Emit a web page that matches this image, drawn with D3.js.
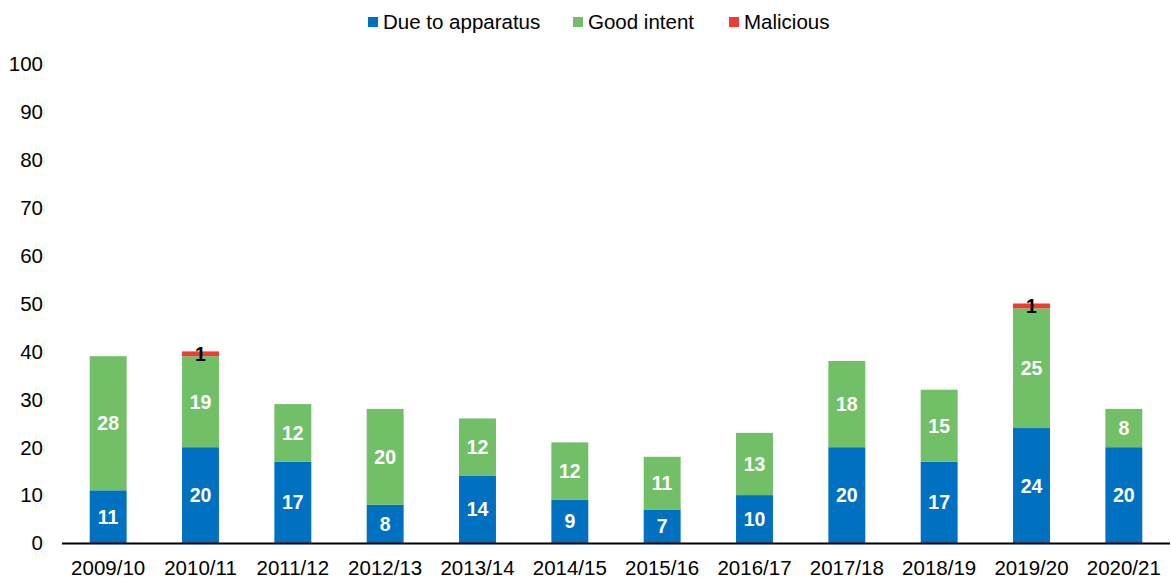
<!DOCTYPE html>
<html>
<head>
<meta charset="utf-8" />
<title>False alarms</title>
<script src="https://d3js.org/d3.v7.min.js"></script>
<style>
  body { margin: 0; background: #fff; }
  text { font-family: "Liberation Sans", Arial, sans-serif; }
</style>
</head>
<body>
<svg id="viz"></svg>
<script>
var years = ["2009/10","2010/11","2011/12","2012/13","2013/14","2014/15","2015/16","2016/17","2017/18","2018/19","2019/20","2020/21"];
var apparatus = [11,20,17,8,14,9,7,10,20,17,24,20];
var goodIntent = [28,19,12,20,12,12,11,13,18,15,25,8];
var malicious = [0,1,0,0,0,0,0,0,0,0,1,0];
var seriesNames = ["Due to apparatus","Good intent","Malicious"];
var yTicks = [0,10,20,30,40,50,60,70,80,90,100];

var colors = ["#0070C0","#71BF67","#EE3B33"];
var labelColors = ["#fff","#fff","#000"];

var width = 1171, height = 579;
var svg = d3.select("#viz").attr("width", width).attr("height", height);

var rows = years.map(function(y, i) {
  return { year: y, a: apparatus[i], g: goodIntent[i], m: malicious[i] };
});
var stack = d3.stack().keys(["a","g","m"]);
var layers = stack(rows);

var xScale = d3.scaleBand().domain(years).range([62, 1170]).paddingInner(0.6).paddingOuter(0.3);
var yScale = d3.scaleLinear().domain([0, 100]).range([543, 64]);

// y labels
svg.append("g").selectAll("text").data(yTicks).enter().append("text")
  .attr("x", 43).attr("y", function(d){ return yScale(d); })
  .attr("dy", "0.36em").attr("text-anchor", "end")
  .attr("font-size", 20.5).attr("fill", "#000")
  .text(function(d){ return d; });

// bars
var g = svg.append("g");
layers.forEach(function(layer, li) {
  g.selectAll(null).data(layer).enter().append("rect")
    .filter(function(d){ return d[1] - d[0] > 0; })
    .attr("x", function(d){ return xScale(d.data.year); })
    .attr("width", xScale.bandwidth())
    .attr("y", function(d){ return yScale(d[1]); })
    .attr("height", function(d){ return yScale(d[0]) - yScale(d[1]); })
    .attr("fill", colors[li]);
  g.selectAll(null).data(layer).enter().append("text")
    .filter(function(d){ return d[1] - d[0] > 0; })
    .attr("x", function(d){ return xScale(d.data.year) + xScale.bandwidth() / 2; })
    .attr("y", function(d){ return yScale((d[0] + d[1]) / 2); })
    .attr("dy", "0.36em").attr("text-anchor", "middle")
    .attr("font-size", 19.5).attr("font-weight", "bold")
    .attr("fill", labelColors[li])
    .text(function(d){ return d[1] - d[0]; });
});

// x axis
svg.append("line").attr("x1", 62).attr("x2", 1170)
  .attr("y1", yScale(0) + 0.5).attr("y2", yScale(0) + 0.5)
  .attr("stroke", "#000").attr("stroke-width", 2);
svg.append("g").selectAll("text").data(years).enter().append("text")
  .attr("x", function(d){ return xScale(d) + xScale.bandwidth() / 2; })
  .attr("y", 575).attr("text-anchor", "middle")
  .attr("font-size", 20.5).attr("fill", "#000")
  .text(function(d){ return d; });

// legend
var legendX = [368, 573, 729];
var leg = svg.append("g").selectAll("g").data(seriesNames).enter().append("g")
  .attr("transform", function(d, i){ return "translate(" + legendX[i] + ",0)"; });
leg.append("rect").attr("x", 0).attr("y", 17).attr("width", 10).attr("height", 10)
  .attr("fill", function(d, i){ return colors[i]; });
leg.append("text").attr("x", 15).attr("y", 29)
  .attr("font-size", 20.5).attr("fill", "#000")
  .text(function(d){ return d; });
</script>
</body>
</html>
